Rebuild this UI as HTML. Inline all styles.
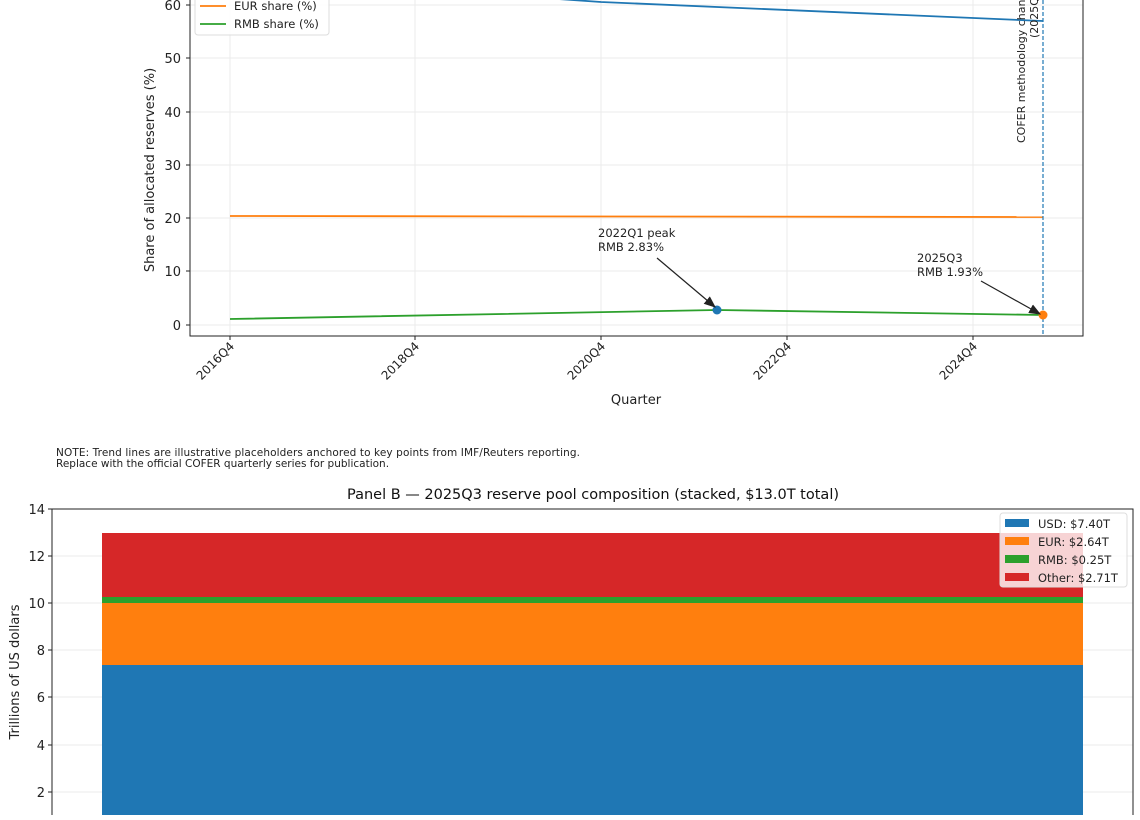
<!DOCTYPE html>
<html><head><meta charset="utf-8"><style>
body{margin:0;background:#fff;width:1140px;height:815px;overflow:hidden}
svg{font-family:"DejaVu Sans","Liberation Sans",sans-serif}
</style></head><body>
<svg width="1140" height="815" viewBox="0 0 1140 815" xmlns="http://www.w3.org/2000/svg">
<defs><clipPath id="ca"><rect x="190" y="-50" width="893" height="386"/></clipPath>
<marker id="ar" markerWidth="10" markerHeight="8" refX="9" refY="4" orient="auto"><path d="M0,0 L10,4 L0,8 z" fill="#222"/></marker></defs>
<g stroke="#ebebeb" stroke-width="1">
<line x1="190" x2="1083" y1="5" y2="5"/><line x1="190" x2="1083" y1="58" y2="58"/><line x1="190" x2="1083" y1="112" y2="112"/><line x1="190" x2="1083" y1="165" y2="165"/><line x1="190" x2="1083" y1="218" y2="218"/><line x1="190" x2="1083" y1="271" y2="271"/><line x1="190" x2="1083" y1="325" y2="325"/>
<line x1="230" x2="230" y1="0" y2="336"/><line x1="415" x2="415" y1="0" y2="336"/><line x1="601" x2="601" y1="0" y2="336"/><line x1="787" x2="787" y1="0" y2="336"/><line x1="973" x2="973" y1="0" y2="336"/>
</g>
<g clip-path="url(#ca)" fill="none" stroke-width="1.8">
<polyline stroke="#1f77b4" points="230,-24 601,2 1043,21"/>
<polyline stroke="#ff7f0e" points="230,216 1043,217"/>
<polyline stroke="#2ca02c" points="230,319 717,310 1043,315"/>
</g>
<line x1="1043" x2="1043" y1="0" y2="336" stroke="#1f77b4" stroke-width="1.2" stroke-dasharray="4,2"/>
<circle cx="717" cy="310" r="4.5" fill="#1f77b4"/>
<circle cx="1043" cy="315" r="4.5" fill="#ff7f0e"/>
<text transform="translate(1025,143) rotate(-90)" font-size="11" fill="#222">COFER methodology change</text>
<text transform="translate(1038,38) rotate(-90)" font-size="11" fill="#222">(2025Q3)</text>
<text x="598" y="237" font-size="11.5" fill="#222">2022Q1 peak</text>
<text x="598" y="251" font-size="11.5" fill="#222">RMB 2.83%</text>
<line x1="657" y1="258" x2="715" y2="307" stroke="#222" stroke-width="1.2" marker-end="url(#ar)"/>
<text x="917" y="262" font-size="11.5" fill="#222">2025Q3</text>
<text x="917" y="276" font-size="11.5" fill="#222">RMB 1.93%</text>
<line x1="981" y1="281" x2="1040" y2="314" stroke="#222" stroke-width="1.2" marker-end="url(#ar)"/>
<rect x="195" y="-20" width="134" height="55" rx="3" fill="#fff" fill-opacity="0.85" stroke="#ddd"/>
<line x1="200" x2="226" y1="6" y2="6" stroke="#ff7f0e" stroke-width="1.8"/>
<text x="234" y="10" font-size="11.5" fill="#222">EUR share (%)</text>
<line x1="200" x2="226" y1="24" y2="24" stroke="#2ca02c" stroke-width="1.8"/>
<text x="234" y="28" font-size="11.5" fill="#222">RMB share (%)</text>
<g stroke="#222" stroke-width="1" fill="none"><path d="M190,0 V336 H1083 V0"/></g>
<g font-size="13" fill="#222" text-anchor="end">
<text x="181" y="10">60</text><text x="181" y="63">50</text><text x="181" y="117">40</text><text x="181" y="170">30</text><text x="181" y="223">20</text><text x="181" y="276">10</text><text x="181" y="330">0</text>
</g>
<g stroke="#222"><line x1="186" x2="190" y1="5" y2="5"/><line x1="186" x2="190" y1="58" y2="58"/><line x1="186" x2="190" y1="112" y2="112"/><line x1="186" x2="190" y1="165" y2="165"/><line x1="186" x2="190" y1="218" y2="218"/><line x1="186" x2="190" y1="271" y2="271"/><line x1="186" x2="190" y1="325" y2="325"/>
<line x1="230" x2="230" y1="336" y2="340"/><line x1="415" x2="415" y1="336" y2="340"/><line x1="601" x2="601" y1="336" y2="340"/><line x1="787" x2="787" y1="336" y2="340"/><line x1="973" x2="973" y1="336" y2="340"/></g>
<g font-size="12" fill="#222" text-anchor="end">
<text transform="translate(235,347) rotate(-45)">2016Q4</text>
<text transform="translate(420,347) rotate(-45)">2018Q4</text>
<text transform="translate(606,347) rotate(-45)">2020Q4</text>
<text transform="translate(792,347) rotate(-45)">2022Q4</text>
<text transform="translate(978,347) rotate(-45)">2024Q4</text>
</g>
<text x="636" y="404" font-size="13" fill="#222" text-anchor="middle">Quarter</text>
<text transform="translate(154,170) rotate(-90)" font-size="13" fill="#222" text-anchor="middle">Share of allocated reserves (%)</text>
<text x="56" y="456" font-size="10.5" fill="#222" textLength="524">NOTE: Trend lines are illustrative placeholders anchored to key points from IMF/Reuters reporting.</text>
<text x="56" y="467" font-size="10.5" fill="#222">Replace with the official COFER quarterly series for publication.</text>
<text x="593" y="499" font-size="14.5" fill="#111" text-anchor="middle">Panel B — 2025Q3 reserve pool composition (stacked, $13.0T total)</text>
<g stroke="#ebebeb"><line x1="52" x2="1133" y1="556" y2="556"/><line x1="52" x2="1133" y1="603" y2="603"/><line x1="52" x2="1133" y1="650" y2="650"/><line x1="52" x2="1133" y1="697" y2="697"/><line x1="52" x2="1133" y1="745" y2="745"/><line x1="52" x2="1133" y1="792" y2="792"/></g>
<rect x="102" y="665" width="981" height="160" fill="#1f77b4"/>
<rect x="102" y="603" width="981" height="62" fill="#ff7f0e"/>
<rect x="102" y="597" width="981" height="6" fill="#2ca02c"/>
<rect x="102" y="533" width="981" height="64" fill="#d62728"/>
<path d="M52,815 V509 H1133 V815" fill="none" stroke="#222"/>
<g stroke="#222"><line x1="48" x2="52" y1="509" y2="509"/><line x1="48" x2="52" y1="556" y2="556"/><line x1="48" x2="52" y1="603" y2="603"/><line x1="48" x2="52" y1="650" y2="650"/><line x1="48" x2="52" y1="697" y2="697"/><line x1="48" x2="52" y1="745" y2="745"/><line x1="48" x2="52" y1="792" y2="792"/></g>
<g font-size="13" fill="#222" text-anchor="end">
<text x="45" y="514">14</text><text x="45" y="561">12</text><text x="45" y="608">10</text><text x="45" y="655">8</text><text x="45" y="702">6</text><text x="45" y="750">4</text><text x="45" y="797">2</text>
</g>
<text transform="translate(19,672) rotate(-90)" font-size="13" fill="#222" text-anchor="middle">Trillions of US dollars</text>
<rect x="1000" y="513" width="127" height="74" rx="3" fill="#fff" fill-opacity="0.8" stroke="#ddd"/>
<rect x="1005" y="519" width="24" height="8" fill="#1f77b4"/><text x="1038" y="528" font-size="11.5" fill="#222">USD: $7.40T</text>
<rect x="1005" y="537" width="24" height="8" fill="#ff7f0e"/><text x="1038" y="546" font-size="11.5" fill="#222">EUR: $2.64T</text>
<rect x="1005" y="555" width="24" height="8" fill="#2ca02c"/><text x="1038" y="564" font-size="11.5" fill="#222">RMB: $0.25T</text>
<rect x="1005" y="573" width="24" height="8" fill="#d62728"/><text x="1038" y="582" font-size="11.5" fill="#222">Other: $2.71T</text>
</svg>
</body></html>
